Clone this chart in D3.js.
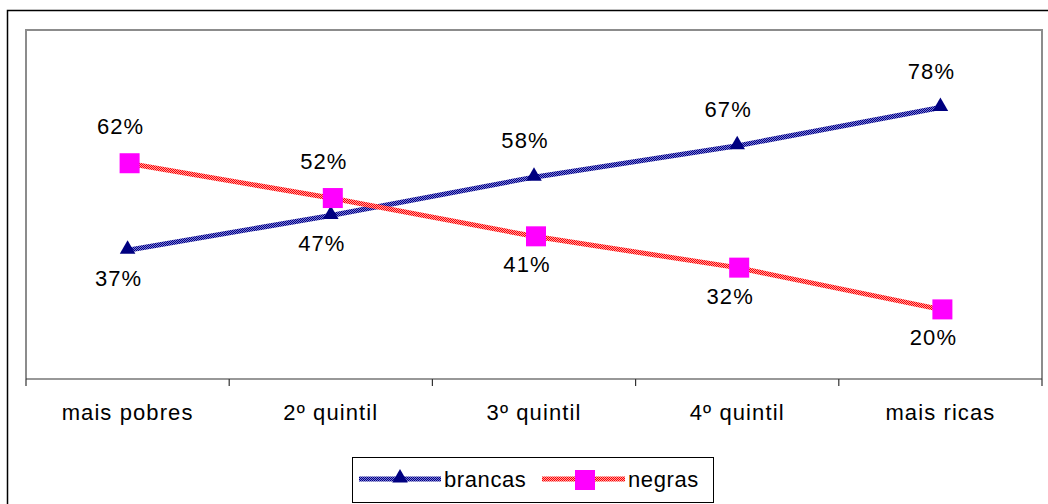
<!DOCTYPE html>
<html>
<head>
<meta charset="utf-8">
<script src="https://cdn.jsdelivr.net/npm/d3@7"></script>
<style>
  html, body { margin: 0; padding: 0; background: #fff; }
  svg { display: block; }
  text { font-family: "Liberation Sans", Arial, sans-serif; fill: #000; }
</style>
</head>
<body>
<script>
// Share of each income quintile, by group
const categories = ["mais pobres", "2º quintil", "3º quintil", "4º quintil", "mais ricas"];
const brancas = [37, 47, 58, 67, 78];
const negras = [62, 52, 41, 32, 20];
const seriesNames = ["brancas", "negras"];

const W = 1048, H = 504;
const plot = { left: 26, right: 1042, top: 30, bottom: 379 };
const FS = 22, LS = 1.1;

const svg = d3.select("body").append("svg")
  .attr("width", W).attr("height", H);

// Textured strokes for the two lines
const defs = svg.append("defs");
function checker(id, dark, light) {
  const p = defs.append("pattern").attr("id", id)
    .attr("patternUnits", "userSpaceOnUse").attr("width", 2).attr("height", 2);
  p.append("rect").attr("width", 2).attr("height", 2).attr("fill", light);
  p.append("rect").attr("width", 1).attr("height", 1).attr("fill", dark);
  p.append("rect").attr("x", 1).attr("y", 1).attr("width", 1).attr("height", 1).attr("fill", dark);
}
checker("texBlue", "#000080", "#7c7cd8");
checker("texRed", "#ff0000", "#ffa0a0");

// Outer frame
svg.append("rect")
  .attr("x", 7.5).attr("y", 10.5).attr("width", 1200).attr("height", 700)
  .attr("fill", "none").attr("stroke", "#000").attr("stroke-width", 1.5);

const x = d3.scaleBand().domain(categories).range([plot.left, plot.right]);
const y = d3.scaleLinear().domain([0, 100]).range([plot.bottom, 31]);

// Plot area border (left, top, right)
svg.append("path")
  .attr("d", `M${plot.left},${plot.bottom}V${plot.top}H${plot.right}V${plot.bottom}`)
  .attr("fill", "none").attr("stroke", "#8c8c8c").attr("stroke-width", 2);

// Category axis
const axis = svg.append("g").attr("transform", `translate(0,${plot.bottom})`);
axis.append("line")
  .attr("x1", plot.left).attr("x2", plot.right)
  .attr("stroke", "#333").attr("stroke-width", 1.2);
const bounds = categories.map(c => x(c)).concat([plot.right]);
axis.selectAll("line.tick").data(bounds).join("line")
  .attr("class", "tick")
  .attr("x1", d => d).attr("x2", d => d)
  .attr("y1", 0).attr("y2", 7)
  .attr("stroke", "#333").attr("stroke-width", 1.2);
axis.selectAll("text").data(categories).join("text")
  .attr("x", d => x(d) + x.bandwidth() / 2)
  .attr("y", 41)
  .attr("text-anchor", "middle")
  .attr("font-size", FS)
  .attr("letter-spacing", LS)
  .text(d => d);

const cx = c => x(c) + x.bandwidth() / 2;
const line = d3.line().x(d => cx(d.c)).y(d => y(d.v));

const dataB = categories.map((c, i) => ({ c, v: brancas[i] }));
const dataN = categories.map((c, i) => ({ c, v: negras[i] }));

svg.append("path").datum(dataB).attr("d", line)
  .attr("fill", "none").attr("stroke", "url(#texBlue)").attr("stroke-width", 5);
svg.append("path").datum(dataN).attr("d", line)
  .attr("fill", "none").attr("stroke", "url(#texRed)").attr("stroke-width", 5);

const tri = d3.symbol().type(d3.symbolTriangle).size(105);
svg.selectAll("path.tri").data(dataB).join("path")
  .attr("class", "tri")
  .attr("transform", d => `translate(${cx(d.c)},${y(d.v) - 1})`)
  .attr("d", tri).attr("fill", "#000080");

svg.selectAll("rect.sq").data(dataN).join("rect")
  .attr("class", "sq")
  .attr("x", d => cx(d.c) - 10 + 2).attr("y", d => y(d.v) - 10)
  .attr("width", 20).attr("height", 20).attr("fill", "#ff00ff");

// Value labels: above or below each marker depending on which line is on top
const above = -29, below = 36;
svg.selectAll("text.lb").data(dataB).join("text")
  .attr("class", "lb")
  .attr("x", d => cx(d.c) - 9)
  .attr("y", (d, i) => y(d.v) + (brancas[i] < negras[i] ? below : above))
  .attr("text-anchor", "middle").attr("font-size", FS).attr("letter-spacing", LS)
  .text(d => d.v + "%");
svg.selectAll("text.ln").data(dataN).join("text")
  .attr("class", "ln")
  .attr("x", d => cx(d.c) - 7)
  .attr("y", (d, i) => y(d.v) + (negras[i] > brancas[i] ? above : below))
  .attr("text-anchor", "middle").attr("font-size", FS).attr("letter-spacing", LS)
  .text(d => d.v + "%");

// Legend
const lg = svg.append("g");
lg.append("rect").attr("x", 352.5).attr("y", 457.5).attr("width", 361).attr("height", 45)
  .attr("fill", "#fff").attr("stroke", "#000").attr("stroke-width", 1);
lg.append("line").attr("x1", 359).attr("x2", 441).attr("y1", 479).attr("y2", 479)
  .attr("stroke", "url(#texBlue)").attr("stroke-width", 5);
lg.append("path").attr("transform", "translate(400,478)").attr("d", tri).attr("fill", "#000080");
lg.append("text").attr("x", 444).attr("y", 487).attr("font-size", FS).attr("letter-spacing", 0.6)
  .text(seriesNames[0]);
lg.append("line").attr("x1", 542).attr("x2", 625).attr("y1", 479).attr("y2", 479)
  .attr("stroke", "url(#texRed)").attr("stroke-width", 5);
lg.append("rect").attr("x", 575).attr("y", 470).attr("width", 20).attr("height", 20).attr("fill", "#ff00ff");
lg.append("text").attr("x", 628).attr("y", 487).attr("font-size", FS).attr("letter-spacing", 0.6)
  .text(seriesNames[1]);
</script>
</body>
</html>
